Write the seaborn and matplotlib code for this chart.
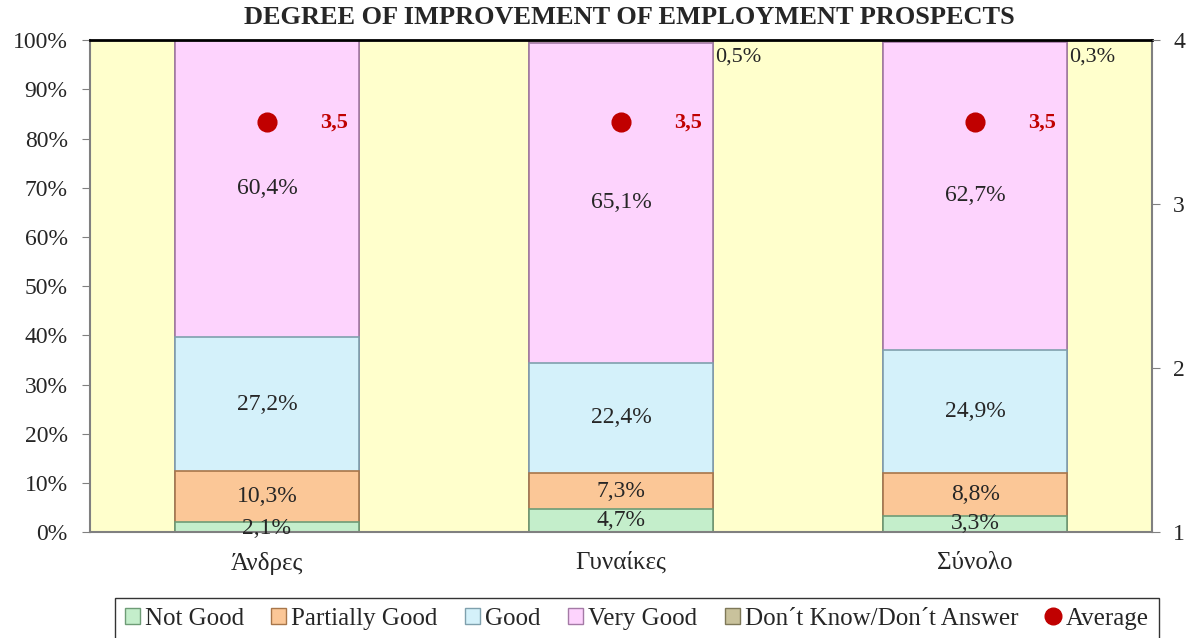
import numpy as np
import pandas as pd
import matplotlib
matplotlib.use('Agg')
import matplotlib.pyplot as plt
from matplotlib.lines import Line2D
from matplotlib.patches import Patch
import seaborn as sns

groups = ['Άνδρες', 'Γυναίκες', 'Σύνολο']
levels = ['Not Good', 'Partially Good', 'Good', 'Very Good', 'Don\u00b4t Know/Don\u00b4t Answer']
not_good = [2.1, 4.7, 3.3]
partially_good = [10.3, 7.3, 8.8]
good = [27.2, 22.4, 24.9]
very_good = [60.4, 65.1, 62.7]
dont_know = [0.0, 0.5, 0.3]
average = [3.5, 3.5, 3.5]

colors = ['#C4EECB', '#FBC797', '#D4F1FA', '#FDD3FD', '#C9C29C']
edge_colors = ['#6E9C76', '#A8764A', '#7FA0AD', '#A47AA6', '#7E7858']
bg = '#FFFFCC'

sns.set_style('white')
plt.rcParams['font.family'] = ['Liberation Serif', 'DejaVu Serif']

series = [not_good, partially_good, good, very_good, dont_know]
df = pd.DataFrame({'group': groups})
for name, vals in zip(levels, series):
    df[name] = vals
cum = df[levels].cumsum(axis=1)

fig = plt.figure(figsize=(11.99, 6.38), dpi=100)
ax = fig.add_axes([0.075, 0.166, 0.886, 0.771])
ax.set_facecolor(bg)

# draw cumulative heights from the top segment down so each overdraws the next
for i in range(len(levels) - 1, -1, -1):
    sns.barplot(x=df['group'], y=cum[levels[i]], color=colors[i], width=0.52,
                edgecolor=edge_colors[i], linewidth=1.2, saturation=1, ax=ax)

ax.set_ylim(0, 100)
ax.set_xlim(-0.5, 2.5)
ax.set_yticks(np.arange(0, 101, 10))
ax.set_yticklabels([f'{v}%' for v in range(0, 101, 10)], fontsize=17)
ax.set_xticks(range(3))
ax.set_xticklabels(groups, fontsize=18)
ax.set_xlabel('')
ax.set_ylabel('')
ax.tick_params(axis='x', length=0, pad=14)
ax.set_xticks([-0.5, 0.5, 1.5, 2.5], minor=True)
ax.tick_params(axis='x', which='minor', length=6, color='#808080', direction='out')
ax.tick_params(axis='y', length=6, color='#808080', direction='out', left=True, pad=10)

for side in ['left', 'right', 'bottom']:
    ax.spines[side].set_color('#808080')
    ax.spines[side].set_linewidth(1.5)
ax.spines['top'].set_color('black')
ax.spines['top'].set_linewidth(2)

# segment labels
for i, g in enumerate(groups):
    base = 0
    for j, name in enumerate(levels[:4]):
        v = df.loc[i, name]
        y = base + v / 2
        if v < 3:
            y = base + v / 2 - 0.4
        ax.text(i, y, f'{v:.1f}%'.replace('.', ','), ha='center', va='center', fontsize=17)
        base += v
    dk = df.loc[i, levels[4]]
    if dk > 0:
        ax.text(i + 0.265, 96.6, f'{dk:.1f}%'.replace('.', ','), ha='left', va='center', fontsize=16)

# secondary axis with the average score
ax2 = ax.twinx()
ax2.set_ylim(1, 4)
ax2.set_yticks([1, 2, 3, 4])
ax2.set_yticklabels(['1', '2', '3', '4'], fontsize=17)
ax2.tick_params(axis='y', length=6, color='#808080', direction='out', pad=9)
for side in ['left', 'right', 'bottom', 'top']:
    ax2.spines[side].set_visible(False)
sns.scatterplot(x=np.arange(3), y=average, color='#C00000', s=180, edgecolor='#C00000',
                zorder=5, ax=ax2, legend=False)
for i, a in enumerate(average):
    ax2.text(i + 0.19, a, f'{a:.1f}'.replace('.', ','), color='#C00000', fontweight='bold',
             ha='center', va='center', fontsize=16)
ax2.set_xlim(-0.5, 2.5)

fig.text(0.525, 0.972, 'DEGREE OF IMPROVEMENT OF EMPLOYMENT PROSPECTS', ha='center', va='center',
         fontsize=19, fontweight='bold')

handles = [Patch(facecolor=c, edgecolor=e) for c, e in zip(colors, edge_colors)]
handles.append(Line2D([], [], marker='o', color='none', markerfacecolor='#C00000',
                      markeredgecolor='#C00000', markersize=12))
leg = fig.legend(handles, levels + ['Average'], loc='lower center', bbox_to_anchor=(0.531, -0.022),
                 ncol=6, fontsize=18, frameon=True, fancybox=False, handlelength=0.6,
                 handleheight=0.6, handletextpad=0.2, columnspacing=1.1, borderpad=0.4)
leg.get_frame().set_edgecolor('black')
leg.get_frame().set_linewidth(1)

fig.savefig('out.png', dpi=100)
